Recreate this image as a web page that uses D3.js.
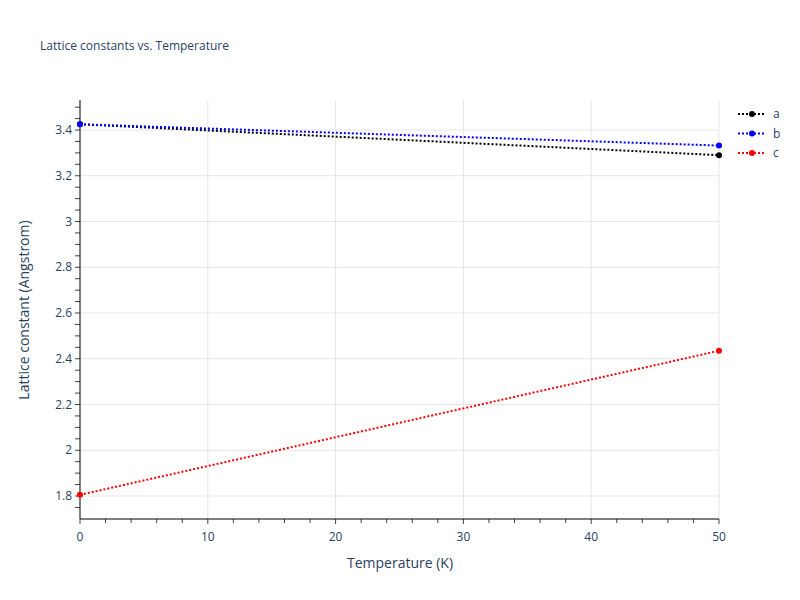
<!DOCTYPE html><html><head><script src="https://cdn.jsdelivr.net/npm/d3@7"></script>
<style>body{margin:0}text{font-family:"Open Sans",sans-serif}</style></head><body><svg width="800" height="600"></svg><script>
const temps=[0,50];
const seriesNames=["a","b","c"];
const aVals=[3.425,3.29];
const bVals=[3.425,3.332];
const cVals=[1.805,2.435];
const colors=["#000000","#0000ff","#ff0000"];
const xTicks=[0,10,20,30,40,50];
const yTicks=[1.8,2,2.2,2.4,2.6,2.8,3,3.2,3.4];
const svg=d3.select("svg");
svg.append("rect").attr("width",800).attr("height",600).attr("fill","#fff");
const x=d3.scaleLinear().domain([0,50]).range([80,719]);
const y=d3.scaleLinear().domain([1.8,3.4]).range([496,130]);
const y0=y.invert(519),y1=y.invert(100);
const g=svg.append("g");
xTicks.slice(1).forEach(t=>g.append("line").attr("x1",x(t)).attr("x2",x(t)).attr("y1",100).attr("y2",519).attr("stroke","#e5e5e5"));
yTicks.forEach(t=>g.append("line").attr("x1",80).attr("x2",719).attr("y1",y(t)).attr("y2",y(t)).attr("stroke","#e5e5e5"));
// minor ticks
d3.range(0,51,2).forEach(t=>g.append("line").attr("x1",x(t)).attr("x2",x(t)).attr("y1",519).attr("y2",519+(t%10==0?5:4)).attr("stroke","#444"));
d3.range(1.75,3.55,0.05).filter(t=>t>=y0&&t<=y1).forEach(t=>g.append("line").attr("x1",80).attr("x2",75).attr("y1",y(t)).attr("y2",y(t)).attr("stroke","#444"));
g.append("line").attr("x1",80).attr("x2",719).attr("y1",519).attr("y2",519).attr("stroke","#000");
g.append("line").attr("x1",80).attr("x2",80).attr("y1",100).attr("y2",519).attr("stroke","#000");
xTicks.forEach(t=>g.append("text").attr("x",x(t)).attr("y",541).attr("text-anchor","middle").attr("font-size",12).attr("fill","#2a3f5f").text(t));
yTicks.forEach(t=>g.append("text").attr("x",72).attr("y",y(t)+4).attr("text-anchor","end").attr("font-size",12).attr("fill","#2a3f5f").text(t));
svg.append("text").attr("x",400).attr("y",568).attr("text-anchor","middle").attr("font-size",14).attr("fill","#2a3f5f").text("Temperature (K)");
svg.append("text").attr("transform","translate(29,310) rotate(-90)").attr("text-anchor","middle").attr("font-size",14).attr("fill","#2a3f5f").text("Lattice constant (Angstrom)");
svg.append("text").attr("x",40).attr("y",50).attr("font-size",12).attr("fill","#2a3f5f").text("Lattice constants vs. Temperature");
const data=[aVals,bVals,cVals];
const line=d3.line().x((d,i)=>x(temps[i])).y(d=>y(d));
data.forEach((vals,k)=>{
 svg.append("path").attr("d",line(vals)).attr("fill","none").attr("stroke",colors[k]).attr("stroke-width",2).attr("stroke-dasharray","2,2");
 vals.forEach((v,i)=>svg.append("circle").attr("cx",x(temps[i])).attr("cy",y(v)).attr("r",3).attr("fill",colors[k]));
 const ly=114+k*19.5;
 svg.append("line").attr("x1",738).attr("x2",766).attr("y1",ly).attr("y2",ly).attr("stroke",colors[k]).attr("stroke-width",2).attr("stroke-dasharray","2,2");
 svg.append("circle").attr("cx",752).attr("cy",ly).attr("r",3).attr("fill",colors[k]);
 svg.append("text").attr("x",773).attr("y",ly+4).attr("font-size",12).attr("fill","#2a3f5f").text(seriesNames[k]);
});
</script></body></html>
